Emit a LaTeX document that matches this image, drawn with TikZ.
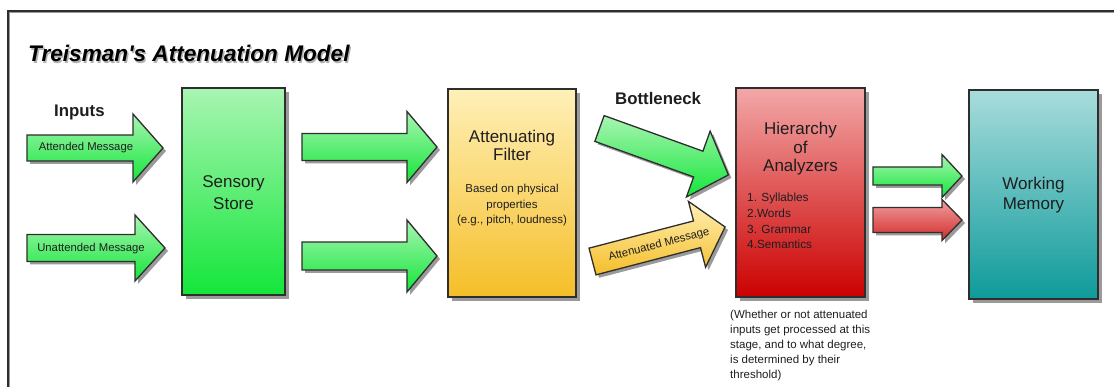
\documentclass[tikz,border=0pt]{standalone}
\usepackage{fontspec}
\setmainfont{Liberation Sans}[Ligatures=TeXOff]
\usetikzlibrary{shadows}

\definecolor{edge}{HTML}{2E2E2E}
\definecolor{ink}{HTML}{1E1E1E}
\definecolor{grnT}{HTML}{A8F5B2}
\definecolor{grnB}{HTML}{14E63A}
\definecolor{ylwT}{HTML}{FFF0B8}
\definecolor{ylwB}{HTML}{F5BE28}
\definecolor{redT}{HTML}{F2A8A8}
\definecolor{redB}{HTML}{CC0000}
\definecolor{redaT}{HTML}{F0A0A0}
\definecolor{redaB}{HTML}{D42A2A}
\definecolor{tealT}{HTML}{A8DCDC}
\definecolor{tealB}{HTML}{0E9A9A}
\definecolor{shadowgray}{HTML}{9A9A9A}

% block arrow: tail point, angle, length, shaft half width, head half width, head length, fill style
\newcommand\blockarrow[7]{%
  \fill[shadowgray] [shift={#1}, shift={(3,3)}, rotate=#2]
    (0,-#4) -- ({#3-#6},-#4) -- ({#3-#6},-#5) -- (#3,0) -- ({#3-#6},#5) -- ({#3-#6},#4) -- (0,#4) -- cycle;
  \draw[edge, line width=1.3pt, line join=miter, #7] [shift={#1}, rotate=#2]
    (0,-#4) -- ({#3-#6},-#4) -- ({#3-#6},-#5) -- (#3,0) -- ({#3-#6},#5) -- ({#3-#6},#4) -- (0,#4) -- cycle;
}

\begin{document}
\begin{tikzpicture}[x=1pt, y=-1pt,
  box/.style={draw=edge, line width=1.3pt,
    drop shadow={shadow xshift=4pt, shadow yshift=-4pt, fill=shadowgray, opacity=1}},
  greenfill/.style={top color=grnT, bottom color=grnB},
  yellowfill/.style={top color=ylwT, bottom color=ylwB},
  redfill/.style={top color=redT, bottom color=redB},
  redarrow/.style={top color=redaT, bottom color=redaB},
  tealfill/.style={top color=tealT, bottom color=tealB},
  boxtitle/.style={text=ink, align=center, anchor=base, inner sep=0pt},
  small/.style={text=ink, inner sep=0pt, font=\fontsize{11.3}{15}\selectfont},
  heading/.style={text=ink, inner sep=0pt, anchor=base west, font=\fontsize{16.8}{20}\bfseries\selectfont}]

\useasboundingbox (0,0) rectangle (1114,387);

% frame
\draw[shadowgray, line width=1.2pt] (1200,12.6) -- (9.6,12.6) -- (9.6,420);
\draw[edge, line width=1.4pt] (1200,11) -- (8,11) -- (8,420);

% title
\node[anchor=base west, inner sep=0pt, text=black!30,
  font=\fontsize{22.6}{26}\bfseries\itshape\selectfont] (titleshadow) at (29.3,63.3) {Treisman's Attenuation Model};
\node[anchor=base west, inner sep=0pt, text=black,
  font=\fontsize{22.6}{26}\bfseries\itshape\selectfont] (title) at (28,62) {Treisman's Attenuation Model};

\node[heading] (inputs) at (54,117) {Inputs};
\node[heading] (bottleneck) at (615,105) {Bottleneck};

% processing stages
\node[box, greenfill, minimum width=103pt, minimum height=207pt] (sensory) at (233.5,191.5) {};
\node[box, yellowfill, minimum width=128pt, minimum height=208pt] (filter) at (512,193) {};
\node[box, redfill, minimum width=129pt, minimum height=209pt] (analyzers) at (800.5,192.5) {};
\node[box, tealfill, minimum width=129pt, minimum height=209pt] (memory) at (1033.5,194.5) {};

% multi-line texts are placed by the baseline of their last line
\node[boxtitle, font=\fontsize{17}{22}\selectfont] (sensoryT) at (233.5,210) {Sensory\\Store};
\node[boxtitle, font=\fontsize{17}{18.5}\selectfont] (filterT) at (512,161) {Attenuating\\Filter};
\node[small, align=center, anchor=base, font=\fontsize{11.5}{15.5}\selectfont] (filterS) at (512,224) {Based on physical\\properties\\(e.g., pitch, loudness)};
\node[boxtitle, font=\fontsize{17}{18.5}\selectfont] (analyzersT) at (800.5,172) {Hierarchy\\of\\Analyzers};
\node[small, align=left, anchor=base west, font=\fontsize{11.8}{15.7}\selectfont] (analyzersS) at (747,249) {1. Syllables\\2.Words\\3. Grammar\\4.Semantics};
\node[boxtitle, font=\fontsize{17}{20}\selectfont] (memoryT) at (1033.5,210) {Working\\Memory};

% inputs to sensory store
\blockarrow{(27,148)}{0}{136}{13}{34}{30}{greenfill}
\node[small] (attended) at (86,147.5) {Attended Message};
\blockarrow{(27,248)}{0}{138}{13.5}{33}{30}{greenfill}
\node[small] (unattended) at (91,248.5) {Unattended Message};

% sensory store to filter
\blockarrow{(302,147)}{0}{135}{13.5}{35.5}{30}{greenfill}
\blockarrow{(302,256)}{0}{135}{14}{36}{30}{greenfill}

% filter to analyzers
\blockarrow{(599.5,128.5)}{-19.8}{137}{13.7}{35}{32}{greenfill}
\blockarrow{(592.5,261.5)}{14.6}{137}{13.8}{34}{29}{yellowfill}
\node[small, rotate=14.6] (attenuated) at (659,245) {Attenuated Message};

% analyzers to working memory
\blockarrow{(873,176)}{0}{89}{9}{21.5}{20}{greenfill}
\blockarrow{(873,220)}{0}{89}{12.5}{20.5}{20}{redarrow}

% threshold note
\node[small, align=left, anchor=base west, font=\fontsize{11.5}{15}\selectfont] (note) at (730,378)
  {(Whether or not attenuated\\inputs get processed at this\\stage, and to what degree,\\is determined by their\\threshold)};

\end{tikzpicture}
\end{document}
